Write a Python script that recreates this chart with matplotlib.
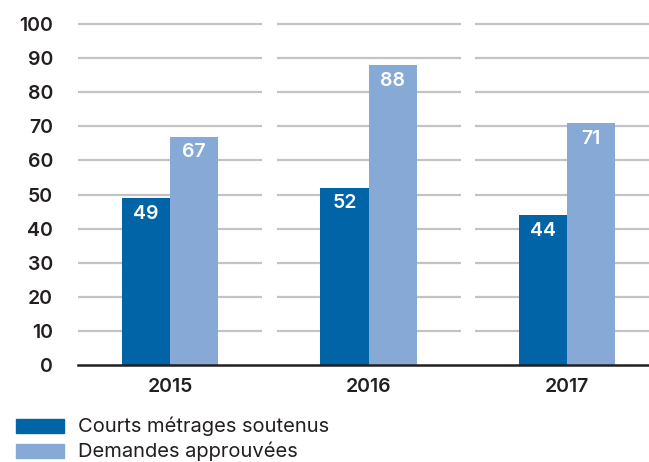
import numpy as np
import matplotlib
matplotlib.use("Agg")
import matplotlib.pyplot as plt
from matplotlib.patches import Rectangle

plt.rcParams["font.family"] = ["Inter", "DejaVu Sans"]

years = ["2015", "2016", "2017"]
courts = [49, 52, 44]
demandes = [67, 88, 71]
series_names = ["Courts métrages soutenus", "Demandes approuvées"]
yticks = list(range(0, 101, 10))

dark = "#0064a7"
light = "#86a9d6"

W, H = 649, 462
fig = plt.figure(figsize=(W / 100, H / 100), dpi=100)
ax = fig.add_axes([78 / W, (H - 365) / H, (W - 78) / W, (365 - 24) / H])

x = np.arange(len(years))
w = 0.242
b1 = ax.bar(x - w / 2, courts, w, color=dark, zorder=3, linewidth=0)
b2 = ax.bar(x + w / 2, demandes, w, color=light, zorder=3, linewidth=0)

# gridlines broken between the year groups
half = 0.4635
for i in x:
    ax.hlines(yticks[1:], i - half, i + half, color="#c3c3c7", lw=1.6,
              zorder=1, clip_on=False)

for bars in (b1, b2):
    for r in bars:
        h = r.get_height()
        ax.text(r.get_x() + r.get_width() / 2, h - 2.0, str(int(h)),
                ha="center", va="top", color="white", fontsize=14,
                fontweight="semibold")

ax.set_xlim(-half, 2.413)
ax.set_ylim(0, 100)
ax.set_yticks(yticks)
ax.set_xticks(x)
ax.set_xticklabels(years)
ax.tick_params(axis="both", length=0, labelsize=14, colors="#231f20")
ax.tick_params(axis="y", pad=18)
ax.tick_params(axis="x", pad=9)
for lbl in ax.get_xticklabels() + ax.get_yticklabels():
    lbl.set_fontweight("semibold")

for s in ["top", "right", "left"]:
    ax.spines[s].set_visible(False)
ax.spines["bottom"].set_color("#231f20")
ax.spines["bottom"].set_linewidth(1.8)
ax.spines["bottom"].set_zorder(4)

# legend at the bottom left
for k, (name, col) in enumerate(zip(series_names, [dark, light])):
    y0 = 419 + k * 25
    fig.patches.append(Rectangle((16 / W, (H - y0 - 14) / H), 48 / W, 14 / H,
                                 transform=fig.transFigure, color=col))
    fig.text(78 / W, (H - y0 - 7) / H, name, va="center", ha="left",
             fontsize=14.5, color="#231f20")

fig.savefig("out.png", dpi=100)
